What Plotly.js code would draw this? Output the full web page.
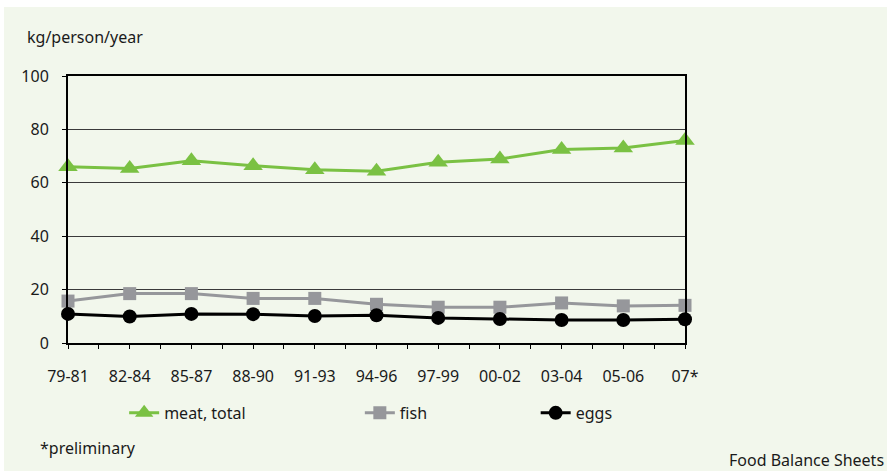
<!DOCTYPE html>
<html><head><meta charset="utf-8">
<script src="https://cdn.plot.ly/plotly-3.0.1.min.js"></script>
<style>
html,body{margin:0;padding:0;background:#ffffff;width:887px;height:475px;overflow:hidden}
#chart{position:absolute;left:4px;top:7px;width:883px;height:464px}
</style></head>
<body><div id="chart"></div>
<script>
const categories = ["79-81","82-84","85-87","88-90","91-93","94-96","97-99","00-02","03-04","05-06","07*"];
const meatTotal = [66.0, 65.4, 68.3, 66.4, 64.9, 64.3, 67.7, 68.9, 72.5, 73.0, 75.8];
const fish      = [15.7, 18.5, 18.5, 16.7, 16.7, 14.5, 13.4, 13.4, 15.0, 13.9, 14.1];
const eggs      = [10.9,  9.9, 10.9, 10.8, 10.1, 10.4,  9.4,  9.0,  8.6,  8.6,  8.9];
const yTicks = [0, 20, 40, 60, 80, 100];

const xIdx = categories.map((c, i) => i);
const font = {family: "Noto Sans, DejaVu Sans, sans-serif", size: 16, color: "#1a1a1a"};

const traces = [
  {x: xIdx, y: meatTotal, name: "meat, total", mode: "lines+markers", cliponaxis: false,
   line: {color: "#7ac143", width: 3}, marker: {symbol: "triangle-up", size: 17, color: "#7ac143"}, legend: "legend"},
  {x: xIdx, y: fish, name: "fish", mode: "lines+markers", cliponaxis: false,
   line: {color: "#96979b", width: 3}, marker: {symbol: "square", size: 13, color: "#96979b"}, legend: "legend2"},
  {x: xIdx, y: eggs, name: "eggs", mode: "lines+markers", cliponaxis: false,
   line: {color: "#000000", width: 3}, marker: {symbol: "circle", size: 14, color: "#000000"}, legend: "legend3"}
];

const legendBase = {orientation: "h", xanchor: "left", yanchor: "middle", y: -0.262,
  bgcolor: "rgba(0,0,0,0)", font: font, itemwidth: 30};

const layout = {
  width: 883, height: 464,
  margin: {l: 64, r: 202, t: 69, b: 128},
  paper_bgcolor: "#f2f7ec",
  plot_bgcolor: "#f2f7ec",
  font: font,
  showlegend: true,
  xaxis: {
    range: [0, 10], tickvals: xIdx, ticktext: categories,
    showline: true, linecolor: "#000", linewidth: 2, mirror: true,
    showgrid: false, zeroline: false,
    ticks: "outside", ticklen: 4, tickcolor: "#000", tickwidth: 1,
    minor: {dtick: 0.5, tick0: 0, ticks: "outside", ticklen: 4, tickcolor: "#000", showgrid: false},
    ticklabelstandoff: 14, tickfont: font, fixedrange: true
  },
  yaxis: {
    range: [0, 100], tickvals: yTicks,
    showline: true, linecolor: "#000", linewidth: 2, mirror: true,
    showgrid: true, gridcolor: "#3a3a3a", gridwidth: 1, zeroline: false,
    ticks: "outside", ticklen: 4, tickcolor: "#000",
    ticklabelstandoff: 10, tickfont: font, fixedrange: true
  },
  legend: Object.assign({}, legendBase, {x: 0.091}),
  legend2: Object.assign({}, legendBase, {x: 0.473}),
  legend3: Object.assign({}, legendBase, {x: 0.758}),
  annotations: [
    {text: "kg/person/year", xref: "paper", yref: "paper", x: -0.07, y: 1.146, xanchor: "left", yanchor: "middle", showarrow: false, font: font},
    {text: "*preliminary", xref: "paper", yref: "paper", x: -0.048, y: -0.395, xanchor: "left", yanchor: "middle", showarrow: false, font: font},
    {text: "Food Balance Sheets", xref: "paper", yref: "paper", x: 1.325, y: -0.44, xanchor: "right", yanchor: "middle", showarrow: false, font: font}
  ]
};

Plotly.newPlot("chart", traces, layout, {displayModeBar: false, staticPlot: true});
</script>
</body></html>
